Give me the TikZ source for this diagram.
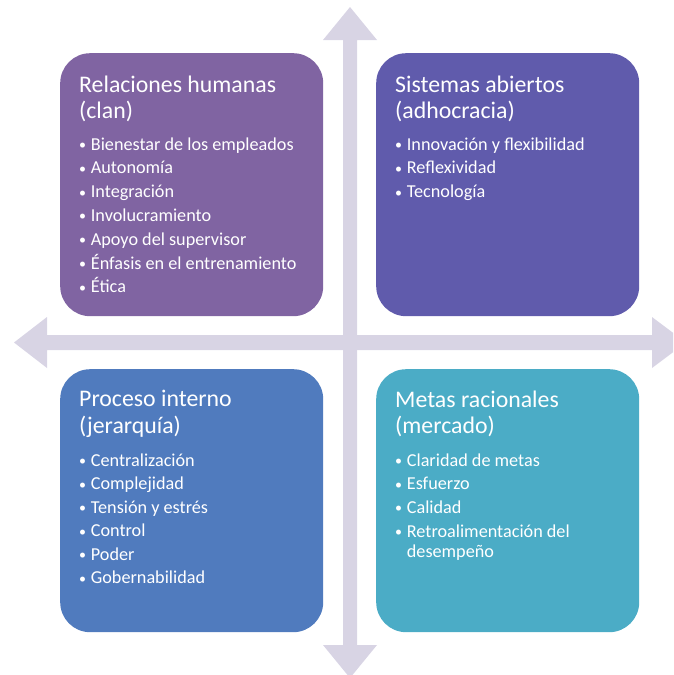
\documentclass[tikz,border=0pt]{standalone}
\usepackage{fontspec}
\setmainfont{Carlito}
\definecolor{cTL}{RGB}{128,100,162}
\definecolor{cTR}{RGB}{96,91,172}
\definecolor{cBL}{RGB}{80,123,190}
\definecolor{cBR}{RGB}{75,172,198}
\definecolor{cArr}{RGB}{216,212,228}
\tikzset{
  quad/.style={rounded corners=30pt, minimum width=263pt, minimum height=263pt, inner sep=0pt, draw=none, anchor=north west},
  ttl/.style={anchor=base west, inner sep=0pt, text=white, font=\fontsize{23.8}{27}\selectfont},
  itm/.style={anchor=base west, inner sep=0pt, text=white, font=\fontsize{18.2}{20}\selectfont},
  bul/.style={anchor=base west, inner sep=0pt, text=white, font=\fontsize{14}{16}\selectfont},
  arr/.style={fill=cArr, draw=none}
}
\begin{document}
\begin{tikzpicture}[x=1pt,y=-1pt]
\useasboundingbox (0,0) rectangle (673,675);
\clip (0,0) rectangle (673,675);
% axes
\fill[arr] (343,40) -- (323,40) -- (350,7) -- (377,40) -- (357,40) -- (357,645) -- (377,645) -- (350,678) -- (323,645) -- (343,645) -- cycle;
\fill[arr] (47,335) -- (47,317) -- (14,342.5) -- (47,368) -- (47,350) -- (652,350) -- (652,368) -- (686,342.5) -- (652,317) -- (652,335) -- cycle;
% boxes
\node[quad, fill=cTL] (tl) at (60,53) {};
\node[quad, fill=cTR] (tr) at (376,53) {};
\node[quad, fill=cBL] (bl) at (60,369) {};
\node[quad, fill=cBR] (br) at (376,369) {};
% TL
\node[ttl] (tlt1) at (79,92) {Relaciones humanas};
\node[ttl] (tlt2) at (79,118) {(clan)};
\foreach \t [count=\i from 0] in {Bienestar de los empleados,Autonomía,Integración,Involucramiento,Apoyo del supervisor,Énfasis en el entrenamiento,Ética}{
  \node[bul] (tlb\i) at (79,149.5+23.8*\i) {•};
  \node[itm] (tli\i) at (90.7,150+23.8*\i) {\t};
}
% TR
\node[ttl] (trt1) at (395,92) {Sistemas abiertos};
\node[ttl] (trt2) at (395,118) {(adhocracia)};
\foreach \t [count=\i from 0] in {Innovación y flexibilidad,Reflexividad,Tecnología}{
  \node[bul] (trb\i) at (395,149.5+23.8*\i) {•};
  \node[itm] (tri\i) at (406.7,150+23.8*\i) {\t};
}
% BL
\node[ttl] (blt1) at (79,406) {Proceso interno};
\node[ttl] (blt2) at (79,433) {(jerarquía)};
\foreach \t [count=\i from 0] in {Centralización,Complejidad,Tensión y estrés,Control,Poder,Gobernabilidad}{
  \node[bul] (blb\i) at (79,465.5+23.5*\i) {•};
  \node[itm] (bli\i) at (90.7,466+23.5*\i) {\t};
}
% BR
\node[ttl] (brt1) at (395,407) {Metas racionales};
\node[ttl] (brt2) at (395,433) {(mercado)};
\foreach \t [count=\i from 0] in {Claridad de metas,Esfuerzo,Calidad,Retroalimentación del}{
  \node[bul] (brb\i) at (395,465.5+23.7*\i) {•};
  \node[itm] (bri\i) at (406.7,466+23.7*\i) {\t};
}
\node[itm] (bri4) at (406.7,557) {desempeño};
\end{tikzpicture}
\end{document}
